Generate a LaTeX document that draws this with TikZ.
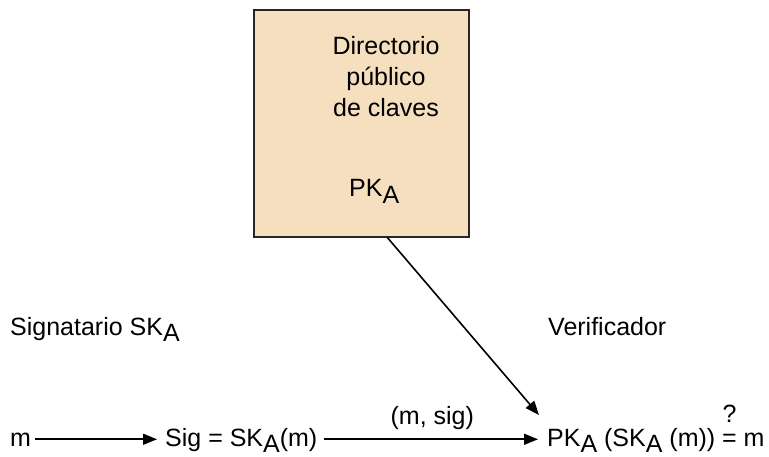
\documentclass[tikz,border=0pt]{standalone}
\usepackage{fontspec}
\setmainfont{Liberation Sans}
\usepackage{tikz}
\usetikzlibrary{arrows.meta,positioning}

\definecolor{dirfill}{RGB}{245,223,191}
\newcommand{\subA}{\raisebox{-0.25em}{A}}
\newcommand{\qeq}{\ooalign{\hfil\raisebox{0.95em}{?}\hfil\cr\hfil=\hfil\cr}}

\begin{document}
\begin{tikzpicture}[
  x=1pt, y=-1pt,
  every node/.style={font=\fontsize{25}{31}\selectfont, inner sep=0pt},
  dirbox/.style={
    draw=black!85, line width=1.4pt, fill=dirfill,
    minimum width=215pt, minimum height=227pt,
  },
  txt/.style={anchor=base west},
  arrow/.style={-{Triangle[length=14pt,width=11pt]}, line width=1.6pt},
]
\useasboundingbox (0,0) rectangle (769,457);

% Directory box
\node[dirbox] (dir) at (361.5,123.5) {};
\node[anchor=base, align=center] (dirtxt) at (386,117) {Directorio\\público\\de claves};
\node[txt] (pk) at (349,197) {PK\subA};

% Parties
\node[txt] (signer) at (10,335) {Signatario SK\subA};
\node[txt] (verifier) at (548,335) {Verificador};

% Bottom row
\node[txt] (msg) at (10,446) {m};
\node[txt] (sig) at (165,446) {Sig = SK\subA(m)};
\node[txt] (check) at (547,446) {PK\subA{} (SK\subA{} (m)) \qeq{} m};
\coordinate (tip) at (539,415);

% Arrows
\draw[arrow, shorten <=4pt, shorten >=8pt] (msg.east) -- (msg.east -| sig.west);
\draw[arrow, shorten <=6pt, shorten >=9pt] (msg.east -| sig.east) -- (msg.east -| check.west)
  node[midway, above=9pt] (msig) {(m, sig)};
\draw[arrow] ([xshift=26pt]dir.south) -- (tip);

\end{tikzpicture}
\end{document}
